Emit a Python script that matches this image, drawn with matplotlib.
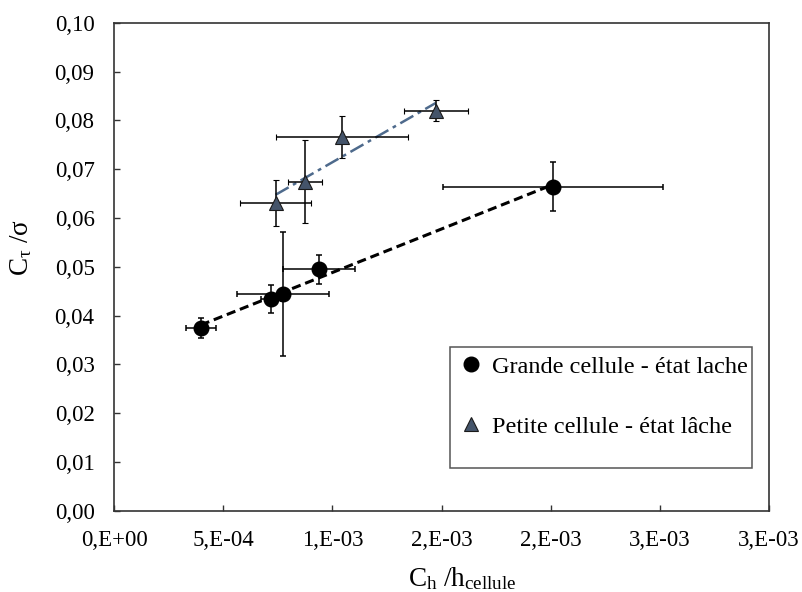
import numpy as np
import matplotlib
matplotlib.use('Agg')
import matplotlib.pyplot as plt
from matplotlib.lines import Line2D
from matplotlib.patches import Rectangle

# --- DONNÉES ---
# Grande cellule - état lache
x_grande = [3.97e-4, 7.17e-4, 7.75e-4, 9.40e-4, 2.011e-3]
y_grande = [0.0374, 0.0434, 0.0445, 0.0495, 0.0664]
xerr_grande = [6.9e-5, 4.6e-5, 2.10e-4, 1.65e-4, 5.05e-4]
yerr_grande = [0.0020, 0.0028, 0.0127, 0.0030, 0.0050]

# Petite cellule - état lâche
x_petite = [7.40e-4, 8.75e-4, 1.043e-3, 1.473e-3]
y_petite = [0.0630, 0.0674, 0.0766, 0.0820]
xerr_petite = [1.63e-4, 7.9e-5, 3.03e-4, 1.47e-4]
yerr_petite = [0.0047, 0.0085, 0.0043, 0.0022]

xticks = [0, 5e-4, 1e-3, 1.5e-3, 2e-3, 2.5e-3, 3e-3]
xtick_labels = ['0,E+00', '5,E-04', '1,E-03', '2,E-03', '2,E-03', '3,E-03', '3,E-03']
yticks = [0.00, 0.01, 0.02, 0.03, 0.04, 0.05, 0.06, 0.07, 0.08, 0.09, 0.10]
ytick_labels = ['0,00', '0,01', '0,02', '0,03', '0,04', '0,05', '0,06', '0,07', '0,08', '0,09', '0,10']

label_grande = 'Grande cellule - état lache'
label_petite = 'Petite cellule - état lâche'

# --- STYLE ---
plt.rcParams['font.family'] = ['Liberation Serif', 'DejaVu Serif']
plt.rcParams['mathtext.fontset'] = 'custom'
plt.rcParams['mathtext.rm'] = 'Liberation Serif'
plt.rcParams['mathtext.it'] = 'Liberation Serif:italic'
plt.rcParams['mathtext.bf'] = 'Liberation Serif:bold'

col_tri = '#44546A'
col_trend2 = '#4E6A8C'

fig = plt.figure(figsize=(8.03, 5.92), dpi=100)
ax = fig.add_axes([0.142, 0.1373, 0.8157, 0.8243])

# courbes de tendance (régression linéaire)
a1, b1 = np.polyfit(x_grande, y_grande, 1)
xs1 = np.array([min(x_grande), max(x_grande)])
ax.plot(xs1, a1 * xs1 + b1, color='black', lw=2.2, linestyle=(0, (3, 1.6)), zorder=2)

a2, b2 = np.polyfit(x_petite, y_petite, 1)
xs2 = np.array([min(x_petite), max(x_petite)])
ax.plot(xs2, a2 * xs2 + b2, color=col_trend2, lw=1.8, linestyle=(0, (6, 2, 1.5, 2)), zorder=2)

# points + barres d'erreur
ax.errorbar(x_grande, y_grande, xerr=xerr_grande, yerr=yerr_grande, fmt='o',
            color='black', ms=10.5, mec='black', ecolor='black', elinewidth=1.1,
            capsize=2.2, capthick=1.1, zorder=3)
ax.errorbar(x_petite, y_petite, xerr=xerr_petite, yerr=yerr_petite, fmt='^',
            color=col_tri, ms=9.5, mec='#1a1a1a', mew=0.8, ecolor='black', elinewidth=1.1,
            capsize=2.2, capthick=1.1, zorder=3)

ax.set_xlim(0, 0.003)
ax.set_ylim(0, 0.10)
ax.set_xticks(xticks)
ax.set_xticklabels(xtick_labels)
ax.set_yticks(yticks)
ax.set_yticklabels(ytick_labels)
ax.tick_params(axis='both', direction='in', length=4.5, width=1, color='#333333',
               labelsize=16.5, top=False, right=False)
ax.tick_params(axis='x', pad=14)
ax.tick_params(axis='y', pad=14)
for s in ax.spines.values():
    s.set_color('#333333')
    s.set_linewidth(1.2)

ax.set_xlabel('C$_{\\mathrm{h}}$ /h$_{\\mathrm{cellule}}$', fontsize=19.5)
ax.set_ylabel('C$_{\\mathrm{τ}}$ /σ', fontsize=19.5)
ax.xaxis.set_label_coords(0.531, -0.112)
ax.yaxis.set_label_coords(-0.122, 0.54)

# légende
ax.add_patch(Rectangle((0.513, 0.087), 0.4615, 0.249, transform=ax.transAxes,
                       fill=True, facecolor='white', edgecolor='#555555', lw=1.1, zorder=4))
handles = [Line2D([], [], marker='o', color='black', ls='none', ms=10.5),
           Line2D([], [], marker='^', color=col_tri, mec='#1a1a1a', mew=0.8, ls='none', ms=9.5)]
leg = ax.legend(handles, [label_grande, label_petite], loc='upper left',
                bbox_to_anchor=(0.493, 0.362), frameon=False, fontsize=17.5,
                labelspacing=1.55, handlelength=1.0, handletextpad=0.35)
leg.set_zorder(5)

plt.savefig('out.png', dpi=100)
